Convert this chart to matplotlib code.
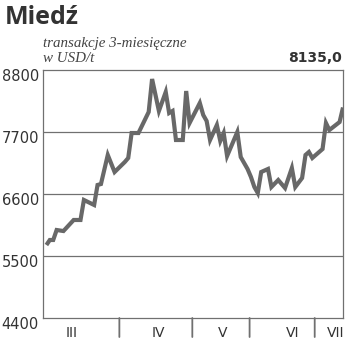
import matplotlib
matplotlib.use("Agg")
import matplotlib.pyplot as plt

# Copper, 3-month contracts, USD/t (session number, price)
sessions = [1, 2, 3, 4, 6, 9, 11, 12, 15, 16, 17, 19, 21, 24, 25, 26, 28, 31, 32,
            34, 36, 37, 38, 39, 41, 42, 43, 46, 47, 48, 49, 51, 52, 53, 54, 57, 58,
            60, 61, 62, 63, 64, 66, 67, 69, 71, 73, 74, 76, 77, 78, 79, 82, 83, 84,
            87, 88]
prices = [5695, 5784, 5784, 5961, 5943, 6139, 6139, 6494, 6405, 6760, 6777, 7292,
          6990, 7168, 7239, 7682, 7682, 8055, 8640, 8073, 8410, 8037, 8073, 7558,
          7558, 8427, 7860, 8215, 8002, 7895, 7558, 7824, 7540, 7682, 7274, 7700,
          7256, 7044, 6902, 6724, 6618, 6990, 7044, 6724, 6848, 6706, 7061, 6724,
          6884, 7292, 7345, 7239, 7398, 7860, 7735, 7877, 8135.0]

y_ticks = [4400, 5500, 6600, 7700, 8800]
month_breaks = [22.4, 43.8, 60.6, 79.7]
month_labels = ["III", "IV", "V", "VI", "VII"]
month_label_pos = [8.5, 33.7, 52.8, 73.3, 85.9]

line_col = "#686868"
frame_col = "#707070"
text_col = "#333333"

fig = plt.figure(figsize=(3.5, 3.52), dpi=100)
ax = fig.add_axes([43 / 350, 34 / 352, 300 / 350, 248 / 352])

ax.plot(sessions, prices, color=line_col, lw=3.0, solid_joinstyle="miter",
        solid_capstyle="butt", zorder=3)

ax.set_xlim(0, 88)
ax.set_ylim(4400, 8800)
ax.set_yticks(y_ticks)
ax.set_yticklabels([])
ax.set_xticks([])
ax.tick_params(length=0)
for v in y_ticks[1:-1]:
    ax.axhline(v, color=frame_col, lw=0.9, zorder=1)
for s in ax.spines.values():
    s.set_color(frame_col)
    s.set_linewidth(0.9)

# y labels hang below their gridline
for v in y_ticks:
    ax.annotate(str(v), xy=(0, v), xycoords=("axes fraction", "data"),
                xytext=(-3, 1), textcoords="offset points", ha="right", va="top",
                fontsize=10.5, color=text_col, family="DejaVu Sans")

# month separators under the axis
for b in month_breaks:
    ax.annotate("", xy=(b, 0), xycoords=("data", "axes fraction"),
                xytext=(b, -19), textcoords=("data", "offset pixels"),
                arrowprops=dict(arrowstyle="-", color=frame_col, lw=1.3,
                                shrinkA=0, shrinkB=0),
                annotation_clip=False)
for pos, lab in zip(month_label_pos, month_labels):
    ax.annotate(lab, xy=(pos, 0), xycoords=("data", "axes fraction"),
                xytext=(0, -10.5), textcoords="offset points", ha="center",
                va="center", fontsize=10, color=text_col, family="DejaVu Sans")

fig.text(5 / 350, 1 - 18 / 352, "Miedź", fontsize=18, fontweight="bold",
         color=text_col, family="Open Sans", va="center", ha="left")
fig.text(43 / 350, 1 - 43 / 352, "transakcje 3-miesięczne", fontsize=10.8,
         style="italic", color="#444444", family="Liberation Serif",
         va="center", ha="left")
fig.text(43 / 350, 1 - 58 / 352, "w USD/t", fontsize=10.8, style="italic",
         color="#444444", family="Liberation Serif", va="center", ha="left")
fig.text(342 / 350, 1 - 58 / 352, "8135,0", fontsize=10, fontweight="bold",
         color=text_col, family="DejaVu Sans", va="center", ha="right")

fig.savefig("out.png", dpi=100)
